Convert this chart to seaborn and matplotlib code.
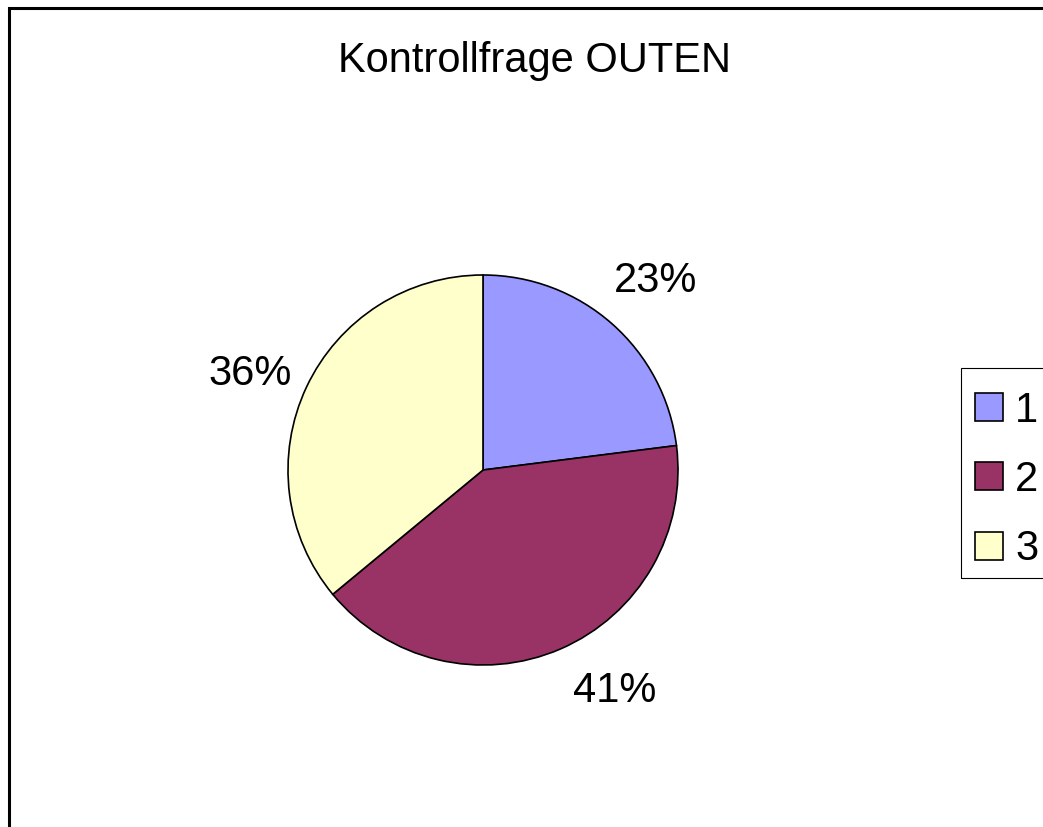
import matplotlib
matplotlib.use('Agg')
import matplotlib.pyplot as plt
from matplotlib.patches import Rectangle
import seaborn as sns

# Data
categories = ['1', '2', '3']
shares = [23, 41, 36]
slice_colors = ['#9999FF', '#993366', '#FFFFCC']
title = 'Kontrollfrage OUTEN'

sns.set_theme(style='white')
plt.rcParams['font.family'] = ['Liberation Sans', 'DejaVu Sans']

W, H = 1043, 827
fig = plt.figure(figsize=(W / 100, H / 100), dpi=100)
ax = fig.add_axes([0, 0, 1, 1])

palette = sns.color_palette(slice_colors)
wedges, texts, autotexts = ax.pie(
    shares, labels=None, colors=palette,
    center=(483, H - 470), radius=195,
    startangle=90, counterclock=False,
    autopct='%1.0f%%', pctdistance=1.3,
    wedgeprops=dict(edgecolor='black', linewidth=1.2),
    textprops=dict(fontsize=30, color='black'),
)

# nudge the percent labels to where Excel put them (pixels)
label_nudge = [(5, -1), (31, 12), (-4, -12)]
for t, (dx, dy) in zip(autotexts, label_nudge):
    x, y = t.get_position()
    t.set_position((x + dx, y + dy))

# pie() resets the limits, so put pixel coordinates back
ax.set_xlim(0, W)
ax.set_ylim(0, H)
ax.set_axis_off()

ax.text(535, H - 72, title, ha='center', va='baseline', fontsize=30, color='black')

# outer chart frame (runs past the right and bottom edge)
ax.add_patch(Rectangle((8.5, -30), 1100, H - 7.5 + 30, fill=False,
                       edgecolor='black', linewidth=2.2, clip_on=False))

# legend box (cut off at the right)
ax.add_patch(Rectangle((960.5, H - 578), 200, 210, fill=False,
                       edgecolor='black', linewidth=0.8, clip_on=False))

ax.legend(wedges, categories, frameon=False, fontsize=30, labelcolor='black',
          loc='center left', bbox_to_anchor=(975 / W, 1 - 480 / H),
          bbox_transform=fig.transFigure, borderpad=0, borderaxespad=0,
          handlelength=0.66, handleheight=0.66, handletextpad=0.3,
          labelspacing=0.7)

fig.savefig('out.png', dpi=100)
